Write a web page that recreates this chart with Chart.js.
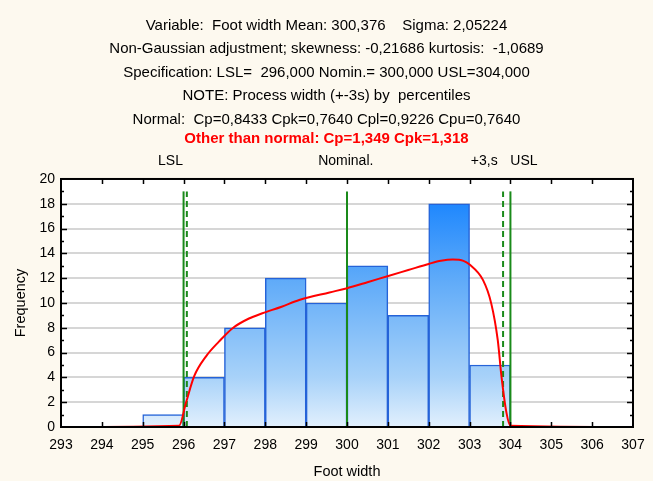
<!DOCTYPE html>
<html>
<head>
<meta charset="utf-8">
<script src="https://cdn.jsdelivr.net/npm/chart.js@4/dist/chart.umd.min.js"></script>
<style>
  html, body { margin: 0; padding: 0; background: #ffffff; }
  #wrap { position: absolute; left: 0; top: 0; width: 653px; height: 481px; background: #fdf9ef; }
</style>
</head>
<body>
<div id="wrap"><canvas id="chart"></canvas></div>
<script>
// Histogram of foot width: bin centres (1-unit bins) and counts
const binCenters = [295.5, 296.5, 297.5, 298.5, 299.5, 300.5, 301.5, 302.5, 303.5];
const binCounts  = [1, 4, 8, 12, 10, 13, 9, 18, 5];

// Fitted non-Gaussian (Johnson-type) density, scaled to frequency
const fitX = [293.15, 295.89, 296.06, 296.26, 296.55, 296.87, 297.2, 297.6, 297.93, 298.4, 298.83,
              299.57, 299.98, 300.5, 300.99, 301.5, 302.02, 302.3, 302.59, 302.85, 303.0,
              303.33, 303.53, 303.69, 303.78, 303.9, 304.0, 307];
const fitY = [0, 0.1, 1.97, 4.1, 5.7, 6.9, 7.97, 8.75, 9.17, 9.7, 10.24,
              10.85, 11.17, 11.67, 12.16, 12.66, 13.17, 13.4, 13.5, 13.4, 13.1,
              11.84, 9.97, 7.0, 4.1, 1.2, 0.1, 0];

// Specification limits and the +-3s process width by percentiles
const specValues   = [296, 300, 304];          // LSL, nominal, USL
const processWidth = [296.08, 303.82];         // -3s, +3s percentiles
const markerTop    = 19;

// Labels shown above the plot and where they sit on the x axis
const markerLabels = ['LSL', 'Nominal.', '+3,s', 'USL'];
const markerLabelX = [295.68, 299.97, 303.36, 304.33];

// Axis ranges
const xRange = [293, 307];
const yRange = [0, 20];

const titleLines = [
  'Variable:  Foot width Mean: 300,376    Sigma: 2,05224',
  'Non-Gaussian adjustment; skewness: -0,21686 kurtosis:  -1,0689',
  'Specification: LSL=  296,000 Nomin.= 300,000 USL=304,000',
  'NOTE: Process width (+-3s) by  percentiles',
  'Normal:  Cp=0,8433 Cpk=0,7640 Cpl=0,9226 Cpu=0,7640'
];
const subtitleLine = 'Other than normal: Cp=1,349 Cpk=1,318';

const FONT = "'Liberation Sans', Arial, sans-serif";
Chart.defaults.font.family = FONT;
Chart.defaults.color = '#000000';

const GREEN = '#1a8a1a';

function vline(x, dashed) {
  return {
    type: 'line',
    data: [{ x: x, y: 0 }, { x: x, y: markerTop }],
    borderColor: GREEN,
    borderWidth: 2,
    borderDash: dashed ? [6, 4] : [],
    pointRadius: 0,
    order: 2
  };
}

// White plot area, frame and inward tick marks
const framePlugin = {
  id: 'frame',
  beforeDraw(chart) {
    const { ctx, chartArea: a } = chart;
    ctx.save();
    ctx.fillStyle = '#ffffff';
    ctx.fillRect(a.left, a.top, a.right - a.left, a.bottom - a.top);
    ctx.restore();
  },
  afterDatasetsDraw(chart) {
    const { ctx, chartArea: a, scales } = chart;
    ctx.save();
    ctx.strokeStyle = '#000000';
    ctx.lineWidth = 1.5;
    ctx.beginPath();
    for (let v = xRange[0] + 1; v < xRange[1]; v++) {
      const px = Math.round(scales.x.getPixelForValue(v)) + 0.5;
      ctx.moveTo(px, a.top); ctx.lineTo(px, a.top + 5);
      ctx.moveTo(px, a.bottom); ctx.lineTo(px, a.bottom - 5);
    }
    for (let v = yRange[0] + 1; v < yRange[1]; v++) {
      const py = Math.round(scales.y.getPixelForValue(v)) + 0.5;
      const len = v % 2 === 0 ? 6 : 3;
      ctx.moveTo(a.left, py); ctx.lineTo(a.left + len, py);
      ctx.moveTo(a.right, py); ctx.lineTo(a.right - len, py);
    }
    ctx.stroke();
    ctx.lineWidth = 2;
    ctx.strokeRect(a.left, a.top, a.right - a.left, a.bottom - a.top);
    ctx.restore();
  }
};

function barGradient(context) {
  const chart = context.chart;
  const { ctx, chartArea, scales } = chart;
  if (!chartArea) return '#5aa8fa';
  const g = ctx.createLinearGradient(0, scales.y.getPixelForValue(yRange[1]), 0, scales.y.getPixelForValue(yRange[0]));
  g.addColorStop(0, '#0a7cff');
  g.addColorStop(0.4, '#5eaaf9');
  g.addColorStop(0.8, '#a8d2f9');
  g.addColorStop(1, '#e2f0fd');
  return g;
}

new Chart(document.getElementById('chart'), {
  type: 'bar',
  data: {
    datasets: [
      {
        type: 'line',
        data: fitX.map((x, i) => ({ x: x, y: fitY[i] })),
        borderColor: '#ff0000',
        borderWidth: 2,
        pointRadius: 0,
        cubicInterpolationMode: 'monotone',
        segment: {
          borderColor: s => (s.p0.parsed.y === 0 && s.p1.parsed.y === 0) ? '#7a0000' : undefined
        },
        order: 1
      },
      vline(specValues[0], false),
      vline(processWidth[0], true),
      vline(specValues[1], false),
      vline(processWidth[1], true),
      vline(specValues[2], false),
      {
        type: 'bar',
        data: binCenters.map((x, i) => ({ x: x, y: binCounts[i] })),
        backgroundColor: barGradient,
        borderColor: '#2563d8',
        borderWidth: 1.5,
        barPercentage: 1,
        categoryPercentage: 1,
        order: 3
      }
    ]
  },
  options: {
    responsive: true,
    maintainAspectRatio: false,
    animation: false,
    layout: { padding: 0 },
    plugins: {
      legend: { display: false },
      tooltip: { enabled: false },
      title: {
        display: true,
        text: titleLines,
        color: '#000000',
        font: { size: 15, weight: 'normal', lineHeight: 1.573 },
        padding: { top: 13.7, bottom: 0 }
      },
      subtitle: {
        display: true,
        text: subtitleLine,
        color: '#ff0000',
        font: { size: 15, weight: 'bold', lineHeight: 1.0 },
        padding: { top: 0, bottom: 0 }
      }
    },
    scales: {
      x: {
        type: 'linear',
        position: 'bottom',
        min: xRange[0], max: xRange[1],
        offset: false,
        ticks: { stepSize: 1, font: { size: 14 }, padding: 1.5, maxRotation: 0, autoSkip: false },
        grid: { display: false },
        border: { display: false },
        title: { display: true, text: 'Foot width', font: { size: 14.5 }, padding: { top: 0, bottom: 0.5 } },
        afterFit: s => { s.height = 54; }
      },
      x2: {
        type: 'linear',
        position: 'top',
        min: xRange[0], max: xRange[1],
        offset: false,
        bounds: 'data',
        afterBuildTicks: s => { s.ticks = markerLabelX.map(v => ({ value: v })); },
        ticks: {
          font: { size: 14 }, padding: 1.5, maxRotation: 0, autoSkip: false,
          callback: v => { const i = markerLabelX.indexOf(v); return i >= 0 ? markerLabels[i] : ''; }
        },
        grid: { display: false },
        border: { display: false },
        afterFit: s => { s.height = 32.3; }
      },
      y: {
        min: yRange[0], max: yRange[1],
        ticks: { stepSize: 2, font: { size: 14 }, padding: 6 },
        grid: { color: '#d6d6d6', lineWidth: 2, drawTicks: false },
        border: { display: false },
        title: { display: true, text: 'Frequency', font: { size: 14.5 }, padding: { top: 12, bottom: 0 } },
        afterFit: s => { s.width = 61; }
      },
      y2: {
        position: 'right',
        min: yRange[0], max: yRange[1],
        ticks: { display: false },
        grid: { display: false },
        border: { display: false },
        afterFit: s => { s.width = 20; }
      }
    }
  },
  plugins: [framePlugin]
});
</script>
</body>
</html>
